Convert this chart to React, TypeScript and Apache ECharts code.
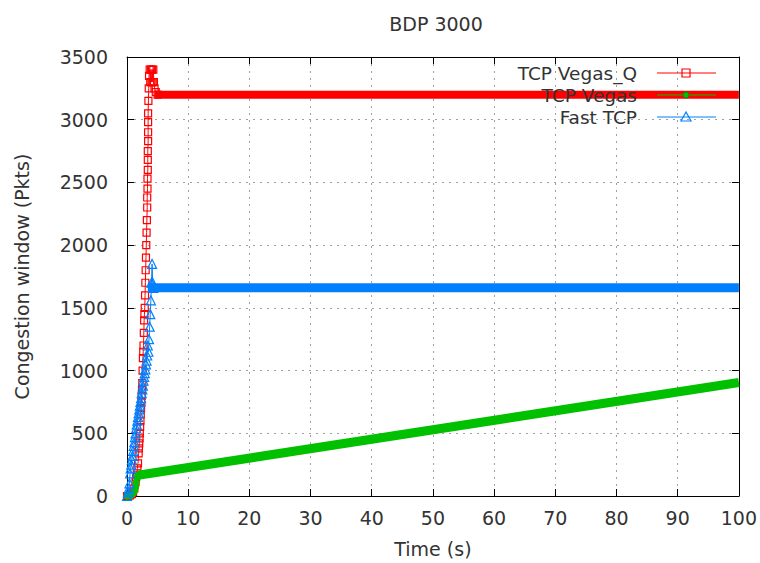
import React, { useEffect, useRef } from "react";
import * as echarts from "echarts";

const TITLE = "BDP 3000";
const X_NAME = "Time (s)";
const Y_NAME = "Congestion window (Pkts)";
const SERIES_NAMES = ["TCP Vegas_Q", "TCP Vegas", "Fast TCP"];
const COLORS = ["#ff0000", "#00c000", "#0080ff"];

// TCP Vegas_Q: start-up ramp (time s, cwnd pkts) and steady level
const vegasQRamp: [number, number][] = [
  [0, 0], [0.2, 0], [0.5, 5], [0.8, 15], [1.0, 30], [1.2, 60], [1.4, 110], [1.5, 150], [1.6, 180],
  [1.7, 220], [1.8, 260], [1.9, 340], [1.95, 380], [2.0, 420], [2.05, 460], [2.1, 500], [2.15, 550],
  [2.2, 600], [2.25, 650], [2.3, 700], [2.35, 750], [2.4, 800], [2.45, 850], [2.5, 900],
  [2.55, 1000], [2.6, 1100], [2.65, 1150], [2.7, 1200], [2.75, 1300], [2.8, 1400], [2.85, 1450],
  [2.9, 1500], [2.95, 1600], [3.0, 1700], [3.05, 1800], [3.1, 1900], [3.15, 2000],
  [3.2, 2100], [3.25, 2200], [3.3, 2300], [3.3, 2380], [3.35, 2450], [3.35, 2530], [3.4, 2600],
  [3.4, 2680], [3.4, 2750], [3.45, 2830], [3.45, 2900], [3.45, 2980], [3.45, 3050], [3.5, 3150],
  [3.55, 3250], [3.6, 3350], [3.7, 3400], [3.8, 3300], [3.9, 3400], [4.0, 3300], [4.1, 3400],
  [4.2, 3300], [4.3, 3400], [4.4, 3300], [4.5, 3250], [4.7, 3220], [5.0, 3200],
];
const vegasQSteady: [number, number][] = [[4.5, 3200], [100, 3200]];

// TCP Vegas
const vegasRamp: [number, number][] = [
  [0, 0], [0.5, 0], [0.8, 10], [1.0, 20], [1.2, 40], [1.4, 70], [1.5, 110], [1.6, 150], [1.8, 165],
];
const vegasSteady: [number, number][] = [[1.8, 165], [100, 905]];

// Fast TCP
const fastRamp: [number, number][] = [
  [0, 0], [0.2, 30], [0.3, 60], [0.4, 100], [0.5, 180], [0.6, 220], [0.7, 250], [0.8, 290],
  [0.9, 320], [1.0, 360], [1.1, 400], [1.2, 430], [1.3, 470], [1.4, 500], [1.5, 540],
  [1.6, 570], [1.7, 600], [1.8, 630], [1.9, 660], [2.0, 690], [2.1, 720], [2.2, 750],
  [2.3, 780], [2.4, 820], [2.5, 850], [2.6, 880], [2.7, 920], [2.8, 950], [2.9, 980],
  [3.0, 1010], [3.1, 1050], [3.2, 1080], [3.3, 1120], [3.4, 1200], [3.5, 1150], [3.6, 1250],
  [3.7, 1350], [3.8, 1450], [3.9, 1560], [4.0, 1700], [4.1, 1850], [4.2, 1700], [4.3, 1660],
];
const fastSteady: [number, number][] = [[3.4, 1660], [100, 1660]];

const X_MIN = 0, X_MAX = 100, X_STEP = 10;
const Y_MIN = 0, Y_MAX = 3500, Y_STEP = 500;

const FONT = "DejaVu Sans";
const TXT = "#333";

export default function App() {
  const ref = useRef<HTMLDivElement>(null);
  useEffect(() => {
    if (!ref.current) return;
    const chart = echarts.init(ref.current, null, { renderer: "svg" });
    const grid = { left: 127, right: 18, top: 57, bottom: 66 };
    const split = { show: true, lineStyle: { color: "#a0a0a0", type: [2, 5] as any, width: 1 } };
    const tick = { show: true, inside: true, length: 7, lineStyle: { color: "#000", width: 1 } };
    const line = { show: true, onZero: false, lineStyle: { color: "#000", width: 1 } };
    const label = { fontFamily: FONT, fontSize: 19, color: TXT, formatter: (v: number) => String(v) };

    const rampSeries = (name: string, data: [number, number][], color: string, symbol: string, size: number, filled: boolean, z: number) => ({
      name, type: "line", data, z,
      symbol, symbolSize: size, showSymbol: true,
      lineStyle: { color, width: 1 },
      itemStyle: { color: filled ? color : "rgba(0,0,0,0)", borderColor: color, borderWidth: 1.2 },
      emphasis: { disabled: true },
    });
    const bandSeries = (data: [number, number][], color: string, width: number, z: number) => ({
      type: "line", data, z, symbol: "none",
      lineStyle: { color, width, cap: "butt" },
      emphasis: { disabled: true },
    });

    const lx = 637, ls = 657, le = 716, lm = 686;
    const rows = [73, 95, 117];
    const legendEls: any[] = [];
    SERIES_NAMES.forEach((n, i) => {
      const y = rows[i];
      legendEls.push({
        type: "text", x: lx, y, z: 100,
        style: { text: n, fontFamily: FONT, fontSize: 18.5, fill: TXT, textAlign: "right", textVerticalAlign: "middle" },
      });
      legendEls.push({ type: "line", z: 100, shape: { x1: ls, y1: y, x2: le, y2: y }, style: { stroke: COLORS[i], lineWidth: 1 } });
    });
    legendEls.push({ type: "rect", z: 101, shape: { x: lm - 4, y: rows[0] - 4, width: 8, height: 8 }, style: { fill: "none", stroke: COLORS[0], lineWidth: 1.2 } });
    legendEls.push({ type: "circle", z: 101, shape: { cx: lm, cy: rows[1], r: 3 }, style: { fill: COLORS[1], stroke: "#009000", lineWidth: 1 } });
    legendEls.push({ type: "polygon", z: 101, shape: { points: [[lm, rows[2] - 5], [lm - 5, rows[2] + 4], [lm + 5, rows[2] + 4]] }, style: { fill: "none", stroke: COLORS[2], lineWidth: 1.2 } });

    chart.setOption({
      animation: false,
      backgroundColor: "#fff",
      title: {
        text: TITLE, left: 431, top: 9, textAlign: "center",
        textStyle: { fontFamily: FONT, fontSize: 19, fontWeight: "normal", color: TXT },
      },
      grid,
      xAxis: [
        {
          type: "value", min: X_MIN, max: X_MAX, interval: X_STEP, position: "bottom",
          name: X_NAME, nameLocation: "middle", nameGap: 43,
          nameTextStyle: { fontFamily: FONT, fontSize: 19, color: TXT },
          axisLine: line, axisTick: tick, splitLine: split,
          axisLabel: { ...label, margin: 12 },
        },
        {
          type: "value", min: X_MIN, max: X_MAX, interval: X_STEP, position: "top",
          axisLine: line, axisTick: tick, splitLine: { show: false }, axisLabel: { show: false },
        },
      ],
      yAxis: [
        {
          type: "value", min: Y_MIN, max: Y_MAX, interval: Y_STEP, position: "left",
          name: Y_NAME, nameLocation: "middle", nameGap: 96,
          nameTextStyle: { fontFamily: FONT, fontSize: 19, color: TXT },
          axisLine: line, axisTick: tick, splitLine: split,
          axisLabel: { ...label, margin: 19 },
        },
        {
          type: "value", min: Y_MIN, max: Y_MAX, interval: Y_STEP, position: "right",
          axisLine: line, axisTick: tick, splitLine: { show: false }, axisLabel: { show: false },
        },
      ],
      series: [
        bandSeries(vegasQSteady, COLORS[0], 8, 2),
        rampSeries(SERIES_NAMES[0], vegasQRamp, COLORS[0], "rect", 7, false, 2),
        bandSeries(vegasSteady, COLORS[1], 9, 3),
        rampSeries(SERIES_NAMES[1], vegasRamp, COLORS[1], "circle", 6, true, 3),
        bandSeries(fastSteady, COLORS[2], 9, 4),
        rampSeries(SERIES_NAMES[2], fastRamp, COLORS[2], "triangle", 9, false, 4),
      ],
      graphic: legendEls,
    });
    return () => chart.dispose();
  }, []);
  return <div ref={ref} style={{ width: 760, height: 563, position: "absolute", left: 0, top: 0 }} />;
}
